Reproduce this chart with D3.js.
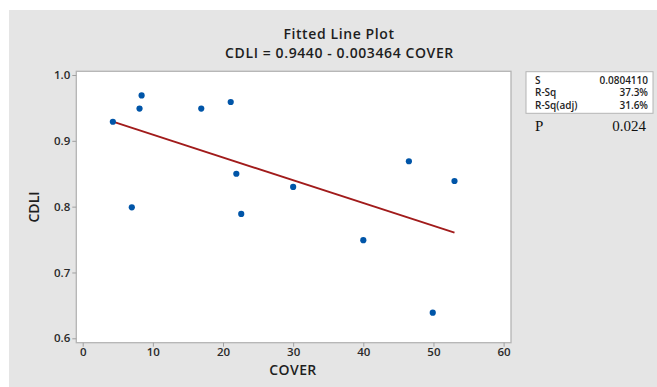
<!DOCTYPE html>
<html>
<head>
<meta charset="utf-8">
<script src="https://cdnjs.cloudflare.com/ajax/libs/d3/7.8.5/d3.min.js"></script>
<style>
    body { margin: 0; background: #fff; }
    text { font-family: "Open Sans", "Noto Sans", sans-serif; }
</style>
</head>
<body>
<div id="canvas"></div>
<script>
var cover = [4.3, 7.0, 8.1, 8.4, 16.9, 21.1, 21.9, 22.6, 30.0, 40.0, 46.5, 49.9, 53.0]
var cdli = [0.929, 0.799, 0.949, 0.969, 0.949, 0.959, 0.850, 0.789, 0.830, 0.749, 0.869, 0.639, 0.839]

var intercept = 0.9440
var slope = -0.003464

var xTicks = [0, 10, 20, 30, 40, 50, 60]
var yTicks = [0.6, 0.7, 0.8, 0.9, 1.0]

var statNames = ["S", "R-Sq", "R-Sq(adj)"]
var statValues = ["0.0804110", "37.3%", "31.6%"]

var width = 657
var height = 387

var svg = d3.select("#canvas")
    .append("svg")
    .attr("width", width)
    .attr("height", height)

// gray panel
svg.append("rect")
    .attr("x", 9)
    .attr("y", 10)
    .attr("width", width - 9)
    .attr("height", height - 10)
    .attr("fill", "#e5e5e5")

var xScale = d3.scaleLinear().domain([0, 60]).range([82.7, 503.6])
var yScale = d3.scaleLinear().domain([0.6, 1.0]).range([338.3, 75])

// data area
svg.append("rect")
    .attr("x", 76.3)
    .attr("y", 71.3)
    .attr("width", 511 - 76.3)
    .attr("height", 342.7 - 71.3)
    .attr("fill", "#fff")
    .attr("stroke", "#b4b4b4")
    .attr("stroke-width", 1.3)

var xAxis = svg.append("g")
    .attr("transform", "translate(0,342.7)")
    .call(d3.axisBottom(xScale).tickValues(xTicks).tickSize(4).tickPadding(1.5).tickFormat(d3.format("d")))

var yAxis = svg.append("g")
    .attr("transform", "translate(76.3,0)")
    .call(d3.axisLeft(yScale).tickValues(yTicks).tickSize(4).tickPadding(2).tickFormat(d3.format(".1f")))

svg.selectAll(".domain").remove()
svg.selectAll(".tick line").attr("stroke", "#a0a0a0")
svg.selectAll(".tick text")
    .attr("fill", "#2a2a2a")
    .style("font-size", "11.5px")
    .style("font-weight", "600")

// fitted line
var xMin = d3.min(cover)
var xMax = d3.max(cover)
svg.append("line")
    .attr("x1", xScale(xMin))
    .attr("y1", yScale(intercept + slope * xMin))
    .attr("x2", xScale(xMax))
    .attr("y2", yScale(intercept + slope * xMax))
    .attr("stroke", "#a11b1b")
    .attr("stroke-width", 1.8)

svg.selectAll(".dot")
    .data(cover)
    .enter()
    .append("circle")
    .attr("class", "dot")
    .attr("cx", function (d) { return xScale(d) })
    .attr("cy", function (d, i) { return yScale(cdli[i]) })
    .attr("r", 3.1)
    .attr("fill", "#0055a8")

// titles
svg.append("text")
    .attr("x", 339)
    .attr("y", 38.5)
    .attr("text-anchor", "middle")
    .attr("fill", "#1e1e1e")
    .style("font-size", "14px")
    .style("letter-spacing", "0.6px")
    .style("font-weight", "600")
    .text("Fitted Line Plot")

svg.append("text")
    .attr("x", 339.5)
    .attr("y", 58)
    .attr("text-anchor", "middle")
    .attr("fill", "#1e1e1e")
    .style("font-size", "14px")
    .style("letter-spacing", "0.6px")
    .style("font-weight", "600")
    .text("CDLI = 0.9440 - 0.003464 COVER")

svg.append("text")
    .attr("x", 293)
    .attr("y", 375)
    .attr("text-anchor", "middle")
    .attr("fill", "#1e1e1e")
    .style("font-size", "14px")
    .style("letter-spacing", "0.4px")
    .style("font-weight", "600")
    .text("COVER")

svg.append("text")
    .attr("transform", "translate(38.5,207) rotate(-90)")
    .attr("text-anchor", "middle")
    .attr("fill", "#1e1e1e")
    .style("font-size", "14px")
    .style("font-weight", "600")
    .text("CDLI")

// stats box
var box = svg.append("g")
box.append("rect")
    .attr("x", 526)
    .attr("y", 71.7)
    .attr("width", 127)
    .attr("height", 41.6)
    .attr("fill", "#fff")
    .attr("stroke", "#b4b4b4")

box.selectAll(".stat-name")
    .data(statNames)
    .enter()
    .append("text")
    .attr("x", 535)
    .attr("y", function (d, i) { return 83.5 + i * 12.5 })
    .attr("fill", "#1e1e1e")
    .style("font-size", "10px")
    .style("font-weight", "600")
    .text(function (d) { return d })

box.selectAll(".stat-value")
    .data(statValues)
    .enter()
    .append("text")
    .attr("x", 648)
    .attr("y", function (d, i) { return 83.5 + i * 12.5 })
    .attr("text-anchor", "end")
    .attr("fill", "#1e1e1e")
    .style("font-size", "10px")
    .style("font-weight", "600")
    .text(function (d) { return d })

svg.append("text")
    .attr("x", 535)
    .attr("y", 131)
    .attr("fill", "#111")
    .style("font-family", "'Liberation Serif', 'Times New Roman', serif")
    .style("font-size", "15px")
    .text("P")

svg.append("text")
    .attr("x", 646)
    .attr("y", 131)
    .attr("text-anchor", "end")
    .attr("fill", "#111")
    .style("font-family", "'Liberation Serif', 'Times New Roman', serif")
    .style("font-size", "15px")
    .text("0.024")
</script>
</body>
</html>
